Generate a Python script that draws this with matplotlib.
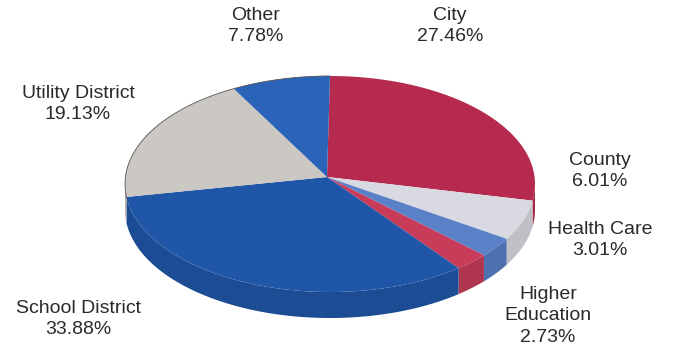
import numpy as np
import matplotlib
matplotlib.use("Agg")
import matplotlib.pyplot as plt
from matplotlib.patches import Polygon
from matplotlib.colors import to_rgb

categories = ["City", "County", "Health Care", "Higher Education",
              "School District", "Utility District", "Other"]
label_texts = ["City", "County", "Health Care", "Higher\nEducation",
               "School District", "Utility District", "Other"]
values = [27.46, 6.01, 3.01, 2.73, 33.88, 19.13, 7.78]
colors = ["#b62a50", "#d9d9e1", "#5a80c8", "#c83c5a", "#2056a8", "#cbc7c2", "#2a63b8"]

W, H = 688, 348
fig = plt.figure(figsize=(W / 100, H / 100), dpi=100)
ax = fig.add_axes([0, 0, 1, 1])
ax.set_xlim(0, W)
ax.set_ylim(H, 0)
ax.axis("off")

cx, cy = 330, 184
rx, ry = 205, 108
depth = 26
apex = (327, 177)


def darker(c, f=0.88):
    r, g, b = to_rgb(c)
    return (r * f, g * f, b * f)


def rim(t):
    return cx + rx * np.cos(t), cy - ry * np.sin(t)


fracs = np.array(values) / sum(values)
start = np.pi / 2
bounds = []
for f in fracs:
    end = start - 2 * np.pi * f
    bounds.append((start, end))
    start = end

# side walls (front half only)
for (s, e), col in zip(bounds, colors):
    ts = np.linspace(s, e, 400)
    front = np.sin(ts) < 0
    if not front.any():
        continue
    tf = ts[front]
    xs, ys = rim(tf)
    poly = np.concatenate([np.column_stack([xs, ys]),
                           np.column_stack([xs[::-1], ys[::-1] + depth])])
    ax.add_patch(Polygon(poly, closed=True, facecolor=darker(col), edgecolor="none", zorder=2))

# top faces
for (s, e), col in zip(bounds, colors):
    ts = np.linspace(s, e, 300)
    xs, ys = rim(ts)
    poly = np.vstack([[apex], np.column_stack([xs, ys])])
    ax.add_patch(Polygon(poly, closed=True, facecolor=col, edgecolor="none", zorder=3))

# thin outline of the left rim
tt = np.linspace(np.pi / 2, np.pi * 1.05, 200)
xo, yo = rim(tt)
ax.plot(xo, yo, color="#555555", lw=0.6, zorder=4)

label_pos = [(450, 26), (600, 171), (600, 240), (548, 316),
             (78, 319), (78, 104), (256, 26)]
pcts = ["%.2f%%" % v for v in values]
for txt, p, (x, y) in zip(label_texts, pcts, label_pos):
    ax.text(x, y, txt + "\n" + p, ha="center", va="center", fontsize=14,
            family="Liberation Sans", color="#2a2a2a", linespacing=1.35, zorder=5)

fig.savefig("out.png", dpi=100, facecolor="white")
